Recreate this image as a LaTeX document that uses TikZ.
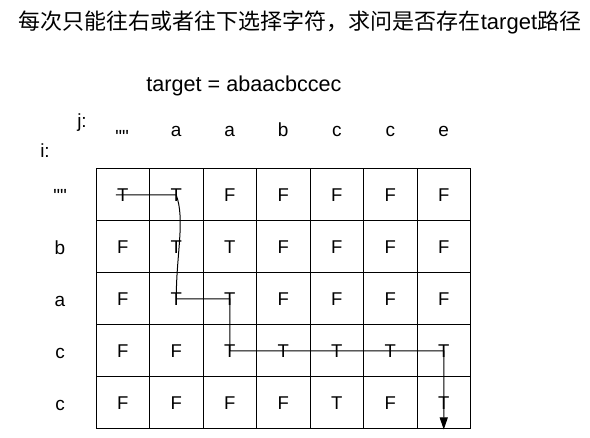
\documentclass[tikz,border=0pt]{standalone}
\usepackage{fontspec}
\setmainfont{Liberation Sans}
\newfontfamily\plainsans{Liberation Sans}
\newfontfamily\cjk{Noto Sans CJK SC}
\usetikzlibrary{arrows.meta}
\newcommand\emptystr{{\plainsans""}}
\tikzset{%
  tipA/.tip={Triangle[length=12pt,width=8pt]},
  cell/.style={draw,line width=1pt,minimum width=53.5pt,minimum height=52pt,inner sep=0pt,font=\fontsize{18.5}{20}\selectfont},
  lbl/.style={anchor=base,font=\fontsize{19}{20}\selectfont},
  route/.style={line width=1pt}
}
\begin{document}
\begin{tikzpicture}[x=1pt,y=-1pt]
\useasboundingbox (0,0) rectangle (590,438);
\node[anchor=base,font=\fontsize{22}{24}\selectfont] (title) at (300,29.5) {{\cjk 每次只能往右或者往下选择字符，求问是否存在}target{\cjk 路径}};
\node[anchor=base,font=\fontsize{21.6}{24}\selectfont] (target) at (244,92) {target = abaacbccec};
\node[lbl] (jlbl) at (82,128) {j:};
\node[lbl] (ilbl) at (45,157.5) {i:};
% column header
\node[lbl] (h-0) at (122,143.5) {\emptystr};
\foreach \c [count=\j] in {a,a,b,c,c,e}
  \node[lbl] (h-\j) at ({122.75+53.5*\j},137) {\c};
% row header
\foreach \c [count=\i from 0] in {\emptystr,b,a,c,c}
  \node[lbl] (r-\i) at (60,{203+52*\i}) {\c};
% table
\foreach \row [count=\i from 0] in {{T,T,F,F,F,F,F},{F,T,T,F,F,F,F},{F,T,T,F,F,F,F},{F,F,T,T,T,T,T},{F,F,F,F,T,F,T}}
  \foreach \v [count=\j from 0] in \row
    \node[cell] (c-\i-\j) at ({122.75+53.5*\j},{195+52*\i}) {\v};
% path
\draw[route,-tipA] ([xshift=-7pt]c-0-0.center) -- (c-0-1.center)
  .. controls +(9,25) and +(0,-45) .. (c-2-1.center) -- (c-2-2.center)
  -- (c-3-2.center) -- (c-3-6.center) -- (c-4-6.south);
\end{tikzpicture}
\end{document}
